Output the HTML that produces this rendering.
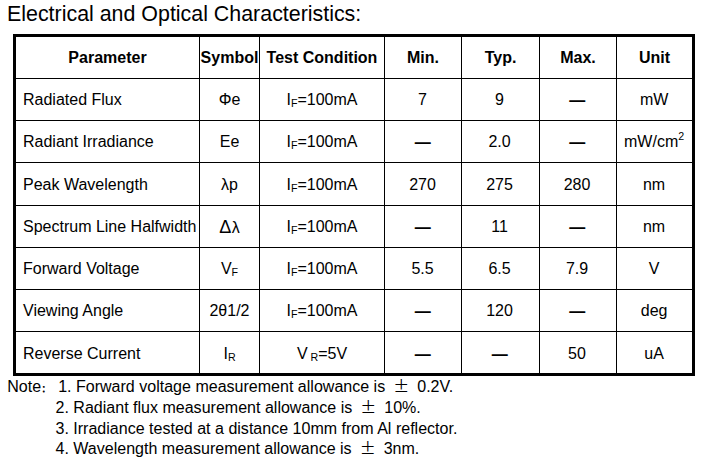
<!DOCTYPE html>
<html><head><meta charset="utf-8"><style>
html,body{margin:0;padding:0;background:#fff;}
#p{position:relative;width:709px;height:458px;overflow:hidden;background:#fff;color:#000;
 font-family:"Liberation Sans","Noto Sans CJK SC",sans-serif;font-size:16px;}
.ln{position:absolute;background:#000;}
.t{position:absolute;white-space:nowrap;line-height:16px;height:16px;}
.c{text-align:center;}
.b{font-weight:bold;}
.sb{position:relative;font-size:10.67px;}
.sp{position:relative;font-size:10.67px;top:-7px;}
.dl{font-size:18px;line-height:0;margin-right:0.5px;}
.dl2{position:relative;top:1px;}
.d{font-family:"Liberation Sans",sans-serif;font-weight:bold;position:relative;left:0.3px;top:1px;}
.title{position:absolute;left:7px;white-space:nowrap;font-size:21.4px;line-height:22px;}
.note{position:absolute;white-space:nowrap;line-height:16px;font-size:16.05px;}
.pm{font-family:"Noto Sans CJK SC",sans-serif;line-height:0;padding:0 3.55px;}
.col{font-family:"Noto Sans CJK SC",sans-serif;font-weight:900;font-size:9px;line-height:0;padding:0 7.7px 0 0.3px;}
</style></head><body><div id="p">
<div class="title" style="top:3px">Electrical and Optical Characteristics:</div>
<div class="ln" style="left:13px;top:34px;width:682px;height:3px"></div>
<div class="ln" style="left:13px;top:373px;width:682px;height:3px"></div>
<div class="ln" style="left:13px;top:34px;width:3px;height:342px"></div>
<div class="ln" style="left:692px;top:34px;width:3px;height:342px"></div>
<div class="ln" style="left:199px;top:34px;width:1px;height:342px"></div>
<div class="ln" style="left:259px;top:34px;width:1px;height:342px"></div>
<div class="ln" style="left:384px;top:34px;width:1px;height:342px"></div>
<div class="ln" style="left:461px;top:34px;width:1px;height:342px"></div>
<div class="ln" style="left:539px;top:34px;width:1px;height:342px"></div>
<div class="ln" style="left:616px;top:34px;width:1px;height:342px"></div>
<div class="ln" style="left:13px;top:78px;width:682px;height:1px"></div>
<div class="ln" style="left:13px;top:120px;width:682px;height:1px"></div>
<div class="ln" style="left:13px;top:162px;width:682px;height:1px"></div>
<div class="ln" style="left:13px;top:205px;width:682px;height:1px"></div>
<div class="ln" style="left:13px;top:247px;width:682px;height:1px"></div>
<div class="ln" style="left:13px;top:289px;width:682px;height:1px"></div>
<div class="ln" style="left:13px;top:331px;width:682px;height:1px"></div>
<div class="t b c" style="left:16px;width:183px;top:50px">Parameter</div>
<div class="t b c" style="left:200px;width:59px;top:50px">Symbol</div>
<div class="t b c" style="left:260px;width:124px;top:50px">Test Condition</div>
<div class="t b c" style="left:385px;width:76px;top:50px">Min.</div>
<div class="t b c" style="left:462px;width:77px;top:50px">Typ.</div>
<div class="t b c" style="left:540px;width:76px;top:50px">Max.</div>
<div class="t b c" style="left:617px;width:75px;top:50px">Unit</div>
<div class="t" style="left:23px;top:92px">Radiated Flux</div>
<div class="t c" style="left:200px;width:59px;top:92px">Φe</div>
<div class="t c" style="left:260px;width:124px;top:92px">I<span class="sb" style="top:1.5px">F</span>=100mA</div>
<div class="t c" style="left:384.5px;width:76px;top:92px">7</div>
<div class="t c" style="left:461px;width:77px;top:92px">9</div>
<div class="t c" style="left:539px;width:76px;top:92px"><span class="d">—</span></div>
<div class="t c" style="left:616.6px;width:75px;top:92px">mW</div>
<div class="t" style="left:23px;top:134px">Radiant Irradiance</div>
<div class="t c" style="left:200px;width:59px;top:134px">Ee</div>
<div class="t c" style="left:260px;width:124px;top:134px">I<span class="sb" style="top:1.5px">F</span>=100mA</div>
<div class="t c" style="left:384.5px;width:76px;top:134px"><span class="d">—</span></div>
<div class="t c" style="left:461px;width:77px;top:134px">2.0</div>
<div class="t c" style="left:539px;width:76px;top:134px"><span class="d">—</span></div>
<div class="t c" style="left:616.6px;width:75px;top:134px">mW/cm<span class="sp">2</span></div>
<div class="t" style="left:23px;top:177px">Peak Wavelength</div>
<div class="t c" style="left:200px;width:59px;top:177px">λp</div>
<div class="t c" style="left:260px;width:124px;top:177px">I<span class="sb" style="top:1.5px">F</span>=100mA</div>
<div class="t c" style="left:384.5px;width:76px;top:177px">270</div>
<div class="t c" style="left:461px;width:77px;top:177px">275</div>
<div class="t c" style="left:539px;width:76px;top:177px">280</div>
<div class="t c" style="left:616.6px;width:75px;top:177px">nm</div>
<div class="t" style="left:23px;top:219px">Spectrum Line Halfwidth</div>
<div class="t c" style="left:200px;width:59px;top:219px"><span class="dl2"><span class="dl">Δ</span>λ</span></div>
<div class="t c" style="left:260px;width:124px;top:219px">I<span class="sb" style="top:1.5px">F</span>=100mA</div>
<div class="t c" style="left:384.5px;width:76px;top:219px"><span class="d">—</span></div>
<div class="t c" style="left:461px;width:77px;top:219px">11</div>
<div class="t c" style="left:539px;width:76px;top:219px"><span class="d">—</span></div>
<div class="t c" style="left:616.6px;width:75px;top:219px">nm</div>
<div class="t" style="left:23px;top:261px">Forward Voltage</div>
<div class="t c" style="left:200px;width:59px;top:261px">V<span class="sb" style="top:2px">F</span></div>
<div class="t c" style="left:260px;width:124px;top:261px">I<span class="sb" style="top:1.5px">F</span>=100mA</div>
<div class="t c" style="left:384.5px;width:76px;top:261px">5.5</div>
<div class="t c" style="left:461px;width:77px;top:261px">6.5</div>
<div class="t c" style="left:539px;width:76px;top:261px">7.9</div>
<div class="t c" style="left:616.6px;width:75px;top:261px">V</div>
<div class="t" style="left:23px;top:303px">Viewing Angle</div>
<div class="t c" style="left:200px;width:59px;top:303px">2θ1/2</div>
<div class="t c" style="left:260px;width:124px;top:303px">I<span class="sb" style="top:1.5px">F</span>=100mA</div>
<div class="t c" style="left:384.5px;width:76px;top:303px"><span class="d">—</span></div>
<div class="t c" style="left:461px;width:77px;top:303px">120</div>
<div class="t c" style="left:539px;width:76px;top:303px"><span class="d">—</span></div>
<div class="t c" style="left:616.6px;width:75px;top:303px">deg</div>
<div class="t" style="left:23px;top:346px">Reverse Current</div>
<div class="t c" style="left:200px;width:59px;top:346px">I<span class="sb" style="top:2px">R</span></div>
<div class="t c" style="left:260px;width:124px;top:346px">V<span class="sb" style="top:2px">&nbsp;R</span>=5V</div>
<div class="t c" style="left:384.5px;width:76px;top:346px"><span class="d">—</span></div>
<div class="t c" style="left:461px;width:77px;top:346px"><span class="d">—</span></div>
<div class="t c" style="left:539px;width:76px;top:346px">50</div>
<div class="t c" style="left:616.6px;width:75px;top:346px">uA</div>
<div class="note" style="left:7.3px;top:378px">Note<span class="col">：</span>1. Forward voltage measurement allowance is <span class="pm">±</span> 0.2V.</div>
<div class="note" style="left:55.5px;top:398.5px">2. Radiant flux measurement allowance is <span class="pm">±</span> 10%.</div>
<div class="note" style="left:55.5px;top:419.5px">3. Irradiance tested at a distance 10mm from Al reflector.</div>
<div class="note" style="left:55.5px;top:440px">4. Wavelength measurement allowance is <span class="pm">±</span> 3nm.</div>
</div></body></html>
